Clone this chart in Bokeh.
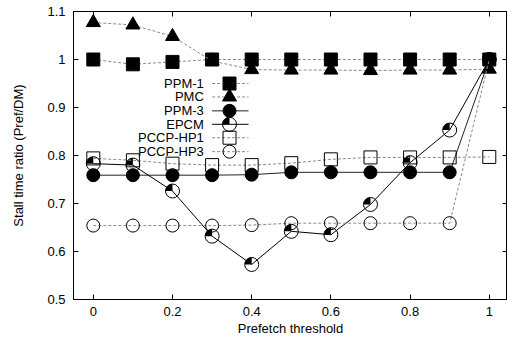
import math
from bokeh.plotting import figure
from bokeh.models import (FixedTicker, CustomJSTickFormatter, LinearAxis, Range1d)
from bokeh.core.properties import value
from bokeh.embed import file_html
from bokeh.resources import INLINE

# ---- data ----
thresholds = [0.0, 0.1, 0.2, 0.3, 0.4, 0.5, 0.6, 0.7, 0.8, 0.9, 1.0]
ppm1 = [1.000, 0.990, 0.995, 1.000, 1.000, 1.000, 1.000, 1.000, 1.000, 1.000, 1.000]
pmc = [1.077, 1.072, 1.048, 0.997, 0.979, 0.978, 0.978, 0.977, 0.978, 0.978, 0.980]
ppm3 = [0.759, 0.759, 0.759, 0.759, 0.760, 0.765, 0.765, 0.765, 0.765, 0.765, 1.000]
epcm = [0.783, 0.780, 0.726, 0.632, 0.573, 0.642, 0.635, 0.698, 0.785, 0.853, 1.000]
pccp_hp1 = [0.794, 0.790, 0.783, 0.780, 0.780, 0.784, 0.792, 0.796, 0.796, 0.796, 0.797]
pccp_hp3 = [0.654, 0.654, 0.654, 0.654, 0.655, 0.659, 0.659, 0.659, 0.659, 0.659, 1.000]

series_names = ["PPM-1", "PMC", "PPM-3", "EPCM", "PCCP-HP1", "PCCP-HP3"]
x_ticks = [0, 0.2, 0.4, 0.6, 0.8, 1.0]
y_ticks = [0.5, 0.6, 0.7, 0.8, 0.9, 1.0, 1.1]

FONT = "Liberation Sans"
GRAY = "#8a8a8a"
DASH = "3 2"

X_START, X_END = -0.05, 1.046
W, H = 507, 349
BORDER_L = 73
PX_PER_X = (W - BORDER_L) / (X_END - X_START)
TICK_PX = 5

p = figure(width=W, height=H, output_backend="svg", toolbar_location=None,
           x_range=Range1d(X_START, X_END), y_range=Range1d(0.5, 1.1),
           min_border_left=BORDER_L, min_border_right=0, min_border_top=11,
           min_border_bottom=50)
p.background_fill_color = "white"
p.border_fill_color = "white"
p.outline_line_color = "black"
p.outline_line_width = 1
p.xgrid.visible = False
p.ygrid.visible = False

fmt = CustomJSTickFormatter(code="return String(Math.round(tick*10)/10)")
blank = CustomJSTickFormatter(code="return ''")

for ax in (p.xaxis[0], p.yaxis[0]):
    ax.major_tick_in = TICK_PX
    ax.major_tick_out = 0
    ax.minor_tick_in = 0
    ax.minor_tick_out = 0
    ax.axis_line_color = "black"
    ax.major_tick_line_color = "black"
    ax.major_label_text_font = FONT
    ax.major_label_text_font_size = "13px"
    ax.major_label_text_color = "black"
    ax.axis_label_text_font = FONT
    ax.axis_label_text_font_size = "13px"
    ax.axis_label_text_font_style = "normal"
    ax.axis_label_text_color = "black"
    ax.formatter = fmt

p.xaxis[0].ticker = FixedTicker(ticks=x_ticks)
p.yaxis[0].ticker = FixedTicker(ticks=y_ticks)
p.xaxis[0].axis_label = "Prefetch threshold"
p.yaxis[0].axis_label = "Stall time ratio (Pref/DM)"
p.xaxis[0].major_label_standoff = 7
p.xaxis[0].axis_label_standoff = 2
p.yaxis[0].major_label_standoff = 8
p.yaxis[0].axis_label_standoff = 18

# mirrored ticks on top (axis, no labels)
top = LinearAxis(ticker=FixedTicker(ticks=x_ticks), formatter=blank,
                 major_tick_in=TICK_PX, major_tick_out=0, minor_tick_in=0,
                 minor_tick_out=0, major_label_standoff=0, axis_line_color="black")
p.add_layout(top, "above")
# mirrored ticks on the right edge (frame runs to the window edge)
tick_dx = TICK_PX / PX_PER_X
p.segment(x0=[X_END - tick_dx] * len(y_ticks), y0=y_ticks,
          x1=[X_END] * len(y_ticks), y1=y_ticks, line_color="black", line_width=1)

# ---- series ----
MS_SQ = 13
MS_TRI = 14
MS_CIR = 13

def draw_series(ys, line_color, dash, marker, fill, size):
    p.line(thresholds, ys, line_color=line_color, line_width=1, line_dash=dash)
    p.scatter(thresholds, ys, marker=marker, size=size, line_color="black",
              fill_color=fill, line_width=1)

draw_series(ppm1, GRAY, DASH, "square", "black", MS_SQ)
draw_series(pmc, GRAY, DASH, "triangle", "black", MS_TRI)
draw_series(ppm3, "#222222", "solid", "circle", "black", MS_CIR)
# EPCM: open circle with top-left quarter filled
p.line(thresholds, epcm, line_color="black", line_width=1)
p.scatter(thresholds, epcm, marker="circle", size=14, line_color="black",
          fill_color=None, line_width=1)
p.wedge(thresholds, epcm, radius=7, radius_units="screen", start_angle=math.pi / 2,
        end_angle=math.pi, fill_color="black", line_color=None)
draw_series(pccp_hp1, GRAY, DASH, "square", None, MS_SQ)
draw_series(pccp_hp3, GRAY, DASH, "circle", None, 13)

# ---- legend (gnuplot style: text right-aligned, sample to the right) ----
LEG_TEXT_X = 0.279
LEG_L0, LEG_L1 = 0.300, 0.392
LEG_MX = 0.344
leg_rows = [0.950, 0.922, 0.893, 0.865, 0.837, 0.808]
styles = [
    (GRAY, DASH, "square", "black", MS_SQ),
    (GRAY, DASH, "triangle", "black", MS_TRI),
    ("#222222", "solid", "circle", "black", MS_CIR),
    ("black", "solid", "circle", None, 14),
    (GRAY, DASH, "square", None, MS_SQ),
    (GRAY, DASH, "circle", None, 13),
]
p.text(x=[LEG_TEXT_X] * len(series_names), y=leg_rows, text=series_names,
       text_align="right", text_baseline="middle", text_font=value(FONT),
       text_font_size="13px", text_color="black")
for i, (lc, dash, mk, fill, sz) in enumerate(styles):
    yy = leg_rows[i]
    p.line([LEG_L0, LEG_L1], [yy, yy], line_color=lc, line_width=1, line_dash=dash)
    p.scatter([LEG_MX], [yy], marker=mk, size=sz, line_color="black",
              fill_color=fill, line_width=1)
    if series_names[i] == "EPCM":
        p.wedge([LEG_MX], [yy], radius=7, radius_units="screen",
                start_angle=math.pi / 2, end_angle=math.pi,
                fill_color="black", line_color=None)

open("out.html", "w").write(file_html(p, INLINE))
